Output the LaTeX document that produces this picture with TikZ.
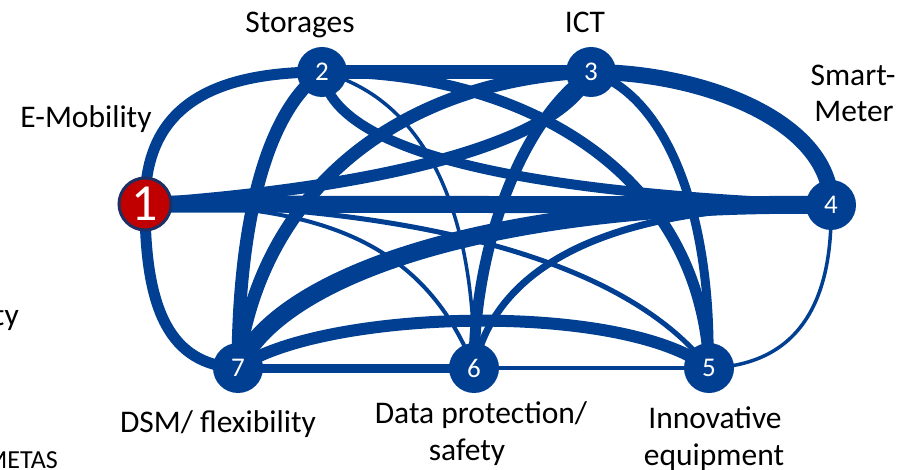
\documentclass[tikz,border=0pt]{standalone}
\usepackage{fontspec}
\setmainfont{Carlito}
\definecolor{netblue}{RGB}{0,63,145}
\definecolor{hubred}{RGB}{192,0,0}
\definecolor{hubrim}{RGB}{28,48,100}
\begin{document}
\begin{tikzpicture}[x=1pt,y=-1pt,
  link/.style={draw=netblue, line cap=butt},
  nd/.style={circle, fill=netblue, inner sep=0pt, minimum size=50pt, text=white,
             font=\fontsize{27}{27}\selectfont},
  hub/.style={circle, fill=hubred, draw=hubrim, line width=3pt, inner sep=0pt,
              minimum size=52pt, text=white, font=\fontsize{52}{52}\selectfont},
  lbl/.style={font=\fontsize{31.5}{38}\selectfont, text=black, inner sep=0pt, anchor=base}
]
\useasboundingbox (0,0) rectangle (902,470);

% node centres
\coordinate (c1) at (145,204);
\coordinate (c2) at (322,72);
\coordinate (c3) at (591,72);
\coordinate (c4) at (831,205);
\coordinate (c5) at (709,368);
\coordinate (c6) at (474,368);
\coordinate (c7) at (238,368);

% links, width = strength of the relation
\draw[link, line width=11pt] (c1) .. controls (145,115) and (200,72) .. (c2);
\draw[link, line width=11pt] (c1) .. controls (145,310) and (170,365) .. (c7);
\draw[link, line width=17pt] (c1) -- (c4);
\draw[link, line width=12pt] (c1) .. controls (350,190) and (560,150) .. (c3);
\draw[link, line width=5pt]  (c1) .. controls (350,205) and (610,240) .. (c5);
\draw[link, line width=4pt]  (c1) .. controls (300,205) and (420,230) .. (c6);

\draw[link, line width=14pt] (c2) -- (c3);
\draw[link, line width=10pt] (c2) .. controls (335,165) and (580,195) .. (c4);
\draw[link, line width=11pt] (c2) .. controls (520,70) and (700,170) .. (c5);
\draw[link, line width=3.5pt] (c2) .. controls (430,100) and (475,220) .. (c6);
\draw[link, line width=13pt] (c2) .. controls (255,120) and (238,260) .. (c7);

\draw[link, line width=16pt] (c3) .. controls (700,72) and (831,120) .. (c4);
\draw[link, line width=9pt]  (c3) .. controls (665,95) and (712,210) .. (c5);
\draw[link, line width=11pt] (c3) .. controls (520,120) and (474,250) .. (c6);
\draw[link, line width=13pt] (c3) .. controls (400,80) and (260,190) .. (c7);

\draw[link, line width=3.5pt] (c4) .. controls (833,300) and (800,365) .. (c5);
\draw[link, line width=7pt]  (c4) .. controls (600,205) and (495,270) .. (c6);
\draw[link, line width=18pt] (c4) .. controls (480,200) and (275,280) .. (c7);

\draw[link, line width=4pt]  (c5) -- (c6);
\draw[link, line width=12pt] (c5) .. controls (620,300) and (320,310) .. (c7);

\draw[link, line width=9pt]  (c6) -- (c7);

% topic nodes
\node[hub] (n1) at (c1) {1};
\node[nd]  (n2) at (c2) {2};
\node[nd]  (n3) at (c3) {3};
\node[nd]  (n4) at (c4) {4};
\node[nd]  (n5) at (c5) {5};
\node[nd]  (n6) at (c6) {6};
\node[nd]  (n7) at (c7) {7};

% topic names
\node[lbl] (t2) at (300,33) {Storages};
\node[lbl] (t3) at (585,33) {ICT};
\node[lbl] (t4a) at (853,86) {Smart-};
\node[lbl] (t4b) at (854,122) {Meter};
\node[lbl] (t1) at (86,128) {E-Mobility};
\node[lbl] (t7) at (218,432) {DSM/ flexibility};
\node[lbl] (t6a) at (481,423) {Data protection/};
\node[lbl] (t6b) at (467,460) {safety};
\node[lbl] (t5a) at (715,428) {Innovative};
\node[lbl] (t5b) at (714,465) {equipment};
\node[lbl, anchor=base east] (tl) at (19,325) {ty};
\node[lbl, anchor=base east, font=\fontsize{26}{30}\selectfont] (src) at (58,468) {METAS};
\end{tikzpicture}
\end{document}
